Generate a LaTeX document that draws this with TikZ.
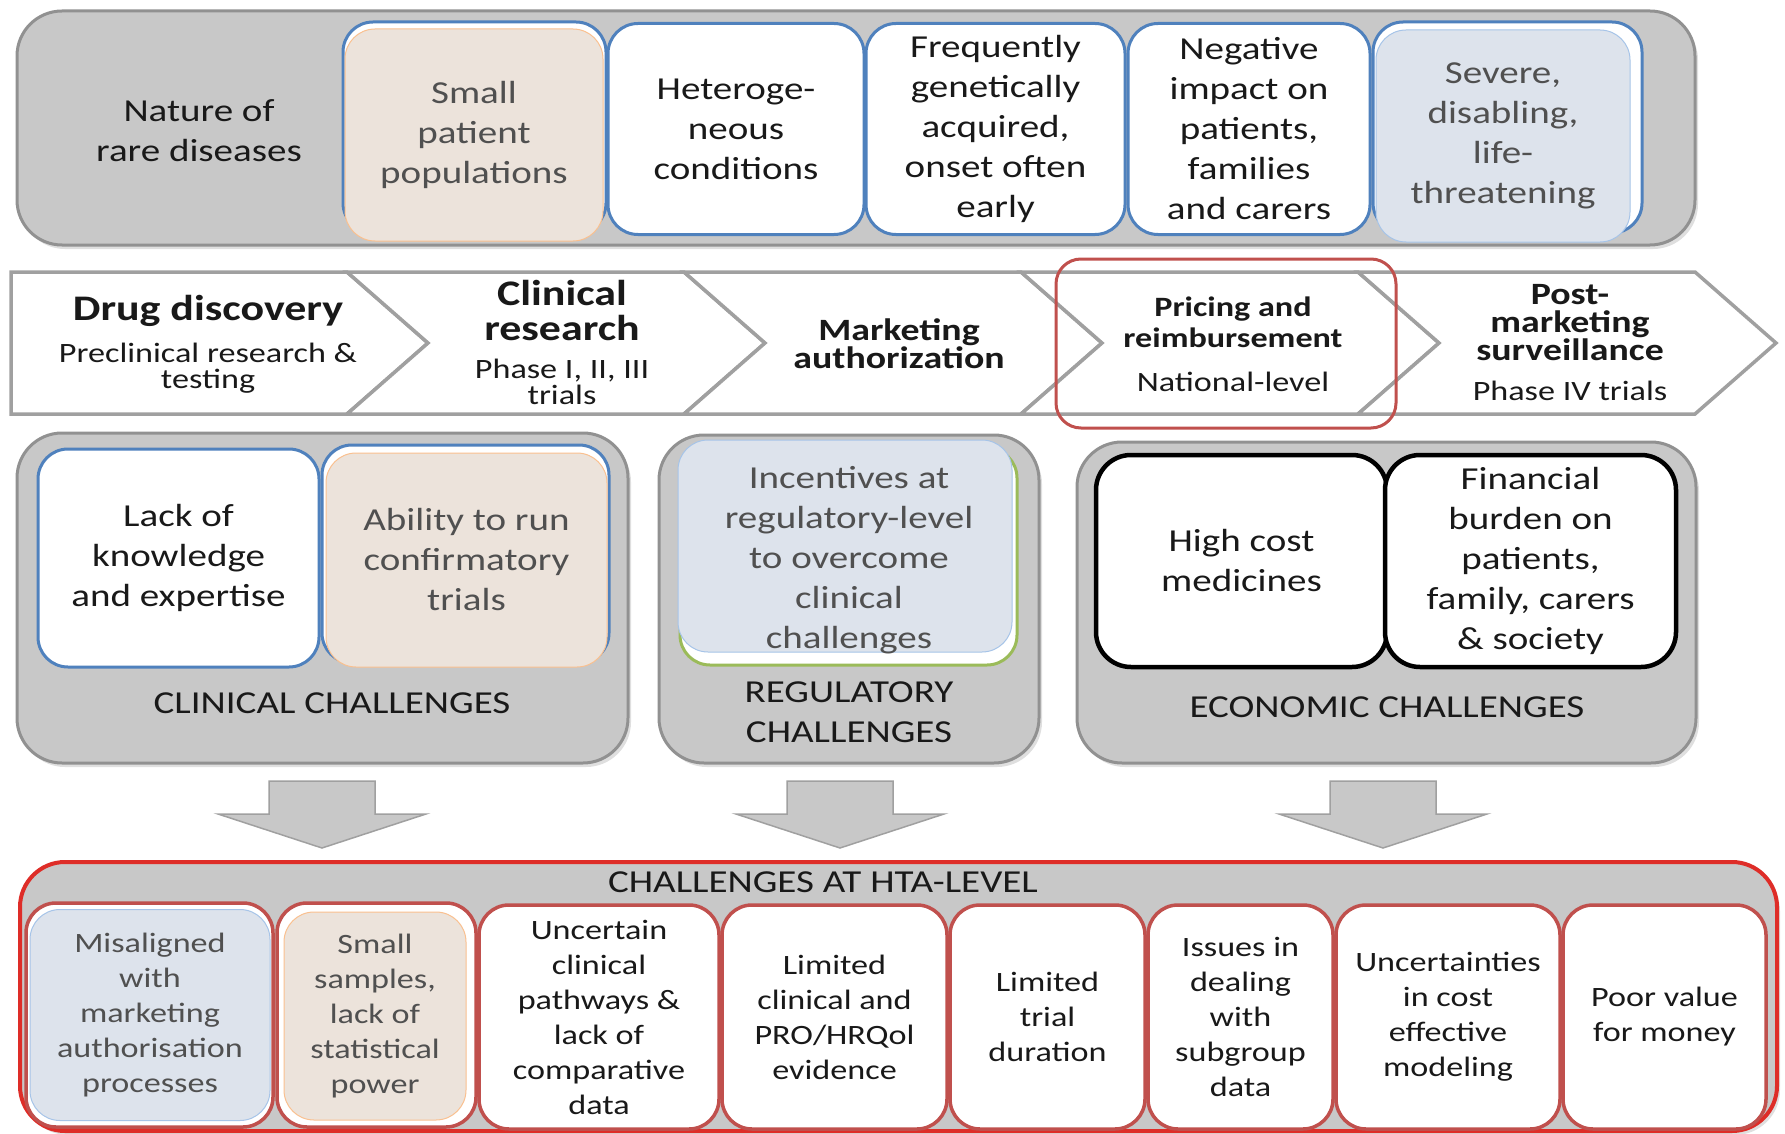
\documentclass[tikz,border=0pt]{standalone}
\usepackage{fontspec}
\setmainfont{Carlito}[FakeStretch=1.22]
\usepackage{xcolor}
\usetikzlibrary{shadows}
\definecolor{PanelGray}{RGB}{200,200,200}
\definecolor{PanelEdge}{RGB}{145,145,145}
\definecolor{BoxBlue}{RGB}{79,129,189}
\definecolor{TanFill}{RGB}{236,227,219}
\definecolor{TanEdge}{RGB}{250,192,143}
\definecolor{MistFill}{RGB}{221,227,236}
\definecolor{MistEdge}{RGB}{166,196,232}
\definecolor{LeafEdge}{RGB}{155,187,89}
\definecolor{BrickRed}{RGB}{192,80,77}
\definecolor{AlertRed}{RGB}{222,45,40}
\definecolor{ChevEdge}{RGB}{160,160,160}
\definecolor{InkDark}{RGB}{25,25,25}
\definecolor{InkSoft}{RGB}{80,80,80}
\newcommand\txtbody{\fontsize{32}{40}\selectfont}
\newcommand\txtbox{\fontsize{28}{35}\selectfont}
\newcommand\txtstage{\bfseries\fontsize{36}{35}\selectfont}
\newcommand\txtstagetight{\bfseries\fontsize{31}{28}\selectfont}
\newcommand\txtstagesub{\fontsize{28}{26}\selectfont}
\newcommand\txtprice{\bfseries\fontsize{28}{31}\selectfont}

\begin{document}
\begin{tikzpicture}[x=1pt,y=-1pt,
  panel/.style={draw=PanelEdge,line width=3pt,fill=PanelGray,rounded corners=45pt,
    drop shadow={shadow xshift=3pt,shadow yshift=-4pt,opacity=.25}},
  lbl/.style={inner sep=0pt,align=center,text=InkDark},
  blueframe/.style={draw=BoxBlue,line width=3pt,fill=white,rounded corners=30pt},
  plainbox/.style={blueframe,align=center,text=InkDark,font=\txtbody,inner sep=0pt},
  tanbox/.style={draw=TanEdge,line width=1pt,fill=TanFill,rounded corners=30pt,
    align=center,text=InkSoft,font=\txtbody,inner sep=0pt},
  mistbox/.style={tanbox,draw=MistEdge,fill=MistFill},
  costbox/.style={plainbox,draw=black,line width=4.5pt,rounded corners=35pt},
  htabox/.style={draw=BrickRed,line width=3.5pt,fill=white,rounded corners=30pt,
    align=center,text=InkDark,font=\txtbox,inner sep=0pt},
  chevron/.style={draw=ChevEdge,line width=3.5pt,fill=white,line join=miter},
  blockarrow/.style={draw=ChevEdge,line width=1.5pt,fill=PanelGray}]
\useasboundingbox (0,0) rectangle (1785,1134);

% nature of rare diseases
\draw[panel] (17,11) rectangle (1695,245);
\node[lbl,font=\txtbody] (nature) at (199,131) {Nature of\\rare diseases};
\draw[blueframe] (343,22) rectangle (606,233);
\node[tanbox,minimum width=258pt,minimum height=212pt] (small) at (474,135) {Small\\patient\\populations};
\node[plainbox,minimum width=256pt,minimum height=211pt] (hetero) at (736,129) {Heteroge-\\neous\\conditions};
\node[plainbox,minimum width=259pt,minimum height=211pt] (genetic) at (995.5,129) {Frequently\\genetically\\acquired,\\onset often\\early};
\node[plainbox,minimum width=242pt,minimum height=211pt] (impact) at (1249,129) {Negative\\impact on\\patients,\\families\\and carers};
\draw[blueframe] (1373,22) rectangle (1642,233);
\node[mistbox,minimum width=254pt,minimum height=212pt] (severe) at (1503,136) {Severe,\\disabling,\\life-\\threatening};

% development stages
\draw[chevron] (11,272) -- (347,272) -- (428,343) -- (347,414) -- (11,414) -- cycle;
\foreach \s in {347,684,1021,1358}
  \draw[chevron] (\s,272) -- (\s+337,272) -- (\s+418,343) -- (\s+337,414) -- (\s,414) -- (\s+81,343) -- cycle;
\draw[draw=BrickRed,line width=3pt,rounded corners=25pt] (1056,259) rectangle (1396,428);

\node[lbl,font=\txtstage] (drug) at (208,311) {Drug discovery};
\node[lbl,font=\txtstagesub] (drugsub) at (208,368) {Preclinical research \&\\testing};
\node[lbl,font=\txtstage] (clinres) at (562,311) {Clinical\\research};
\node[lbl,font=\txtstagesub] (clinsub) at (562,382) {Phase I, II, III\\trials};
\node[lbl,font=\txtstagetight] (market) at (899,344) {Marketing\\authorization};
\node[lbl,font=\txtprice] (pricing) at (1233,322) {Pricing and\\reimbursement};
\node[lbl,font=\txtstagesub] (pricesub) at (1233,382) {National-level};
\node[lbl,font=\txtstagetight] (postmkt) at (1570,323) {Post-\\marketing\\surveillance};
\node[lbl,font=\txtstagesub] (postsub) at (1570,391) {Phase IV trials};

% clinical challenges
\draw[panel] (17,433) rectangle (628,763);
\node[plainbox,minimum width=281pt,minimum height=218pt] (knowledge) at (178.5,558) {Lack of\\knowledge\\and expertise};
\draw[blueframe] (322,445) rectangle (609,663);
\node[tanbox,minimum width=281pt,minimum height=214pt] (confirm) at (466.5,560) {Ability to run\\confirmatory\\trials};
\node[lbl,font=\txtbody] (clinical) at (332,703) {CLINICAL CHALLENGES};

% regulatory challenges
\draw[panel] (659,435) rectangle (1039,763);
\draw[draw=LeafEdge,line width=3pt,fill=white,rounded corners=30pt] (680,448) rectangle (1017,665);
\draw[draw=MistEdge,line width=1pt,fill=MistFill,rounded corners=30pt] (678,440) rectangle (1012,652);
\node[lbl,font=\txtbody,text=InkSoft] (incentive) at (849,560) {Incentives at\\regulatory-level\\to overcome\\clinical\\challenges};
\node[lbl,font=\txtbody] (regulatory) at (849,712) {REGULATORY\\CHALLENGES};

% economic challenges
\draw[panel] (1077,442) rectangle (1696,763);
\node[costbox,minimum width=291pt,minimum height=212pt] (highcost) at (1241.5,561) {High cost\\medicines};
\node[costbox,minimum width=291pt,minimum height=212pt] (burden) at (1530.5,561) {Financial\\burden on\\patients,\\family, carers\\\& society};
\node[lbl,font=\txtbody] (economic) at (1387,707) {ECONOMIC CHALLENGES};

% arrows down to the HTA level
\foreach \cx in {322,840,1383}
  \draw[blockarrow] (\cx-53,781) -- (\cx+53,781) -- (\cx+53,814) -- (\cx+104,814) -- (\cx,848) -- (\cx-104,814) -- (\cx-53,814) -- cycle;

% HTA level
\draw[panel,draw=AlertRed,line width=4pt] (20,862) rectangle (1777,1131);
\node[lbl,font=\txtbody] (hta) at (823,882) {CHALLENGES AT HTA-LEVEL};
\draw[htabox] (26,903) rectangle (273,1127);
\node[mistbox,font=\txtbox,minimum width=240pt,minimum height=211pt] (misalign) at (150,1015) {Misaligned\\with\\marketing\\authorisation\\processes};
\draw[htabox] (277,903) rectangle (476,1127);
\node[tanbox,font=\txtbox,minimum width=182pt,minimum height=208pt] (samples) at (375,1016) {Small\\samples,\\lack of\\statistical\\power};
\foreach \l/\r/\nm/\txt in {479/719/pathways/{Uncertain\\clinical\\pathways \&\\lack of\\comparative\\data},
    722/947/evidence/{Limited\\clinical and\\PRO/HRQol\\evidence},
    950/1145/duration/{Limited\\trial\\duration},
    1148/1333/subgroup/{Issues in\\dealing\\with\\subgroup\\data},
    1336/1560/costeff/{Uncertainties\\in cost\\effective\\modeling},
    1563/1766/value/{Poor value\\for money}}
  \node[htabox,minimum width=\r-\l,minimum height=224pt] (\nm) at ({(\l+\r)/2},1017) {\txt};
\end{tikzpicture}
\end{document}
